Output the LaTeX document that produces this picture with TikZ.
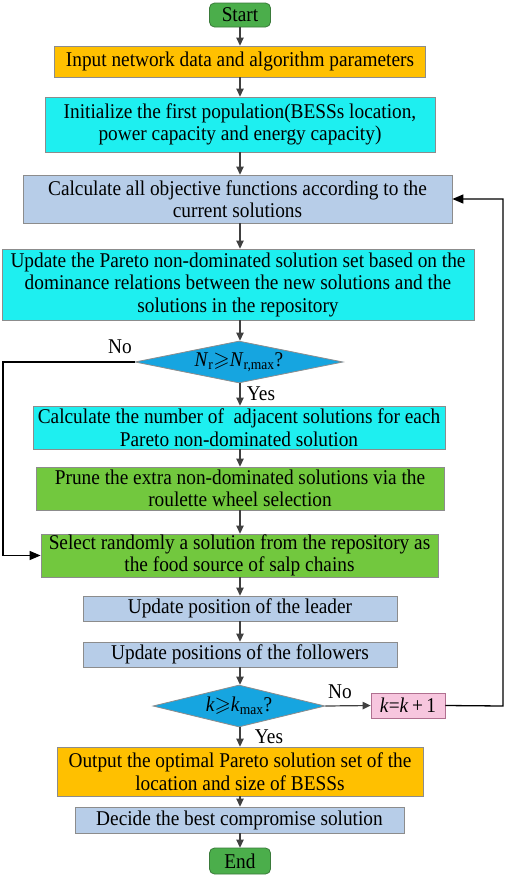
\documentclass[tikz,border=0pt]{standalone}
\usepackage{fontspec}
\setmainfont{Liberation Serif}[FakeStretch=0.92]
\usepackage{amssymb}
\usetikzlibrary{shapes.geometric,arrows.meta}
\definecolor{termgreen}{HTML}{4BAE4B}
\definecolor{termborder}{HTML}{3A7A3A}
\definecolor{orangebox}{HTML}{FFC000}
\definecolor{cyanbox}{HTML}{1EEFF0}
\definecolor{bluebox}{HTML}{B7CDE8}
\definecolor{greenbox}{HTML}{72C83E}
\definecolor{diamondblue}{HTML}{16A5E0}
\definecolor{pinkbox}{HTML}{F7C6DE}
\definecolor{pinkborder}{HTML}{B07090}
\definecolor{bordergray}{HTML}{8C8C8C}
\definecolor{arrowgray}{HTML}{404040}
\begin{document}
\begin{tikzpicture}[x=1pt,y=-1pt,
  txt/.style={font=\fontsize{21}{22.5}\selectfont},
  box/.style={txt,draw=bordergray,line width=0.8pt,inner sep=0pt,align=center},
  term/.style={box,draw=termborder,fill=termgreen,rounded corners=5pt,minimum width=61pt},
  decision/.style={txt,diamond,draw=bordergray,line width=0.8pt,fill=diamondblue,inner sep=0pt,aspect=4.5,minimum height=42pt},
  arr/.style={draw=arrowgray,line width=1.2pt,-{Triangle[length=8pt,width=7.5pt]}},
  loop/.style={draw=black,line width=1.3pt,-{Triangle[length=11pt,width=9pt]}},
  lab/.style={txt,inner sep=0pt}
]
\useasboundingbox (0,0) rectangle (505,876);

\node[term,minimum height=24pt] (start) at (240,15) {Start};
\node[box,fill=orangebox,minimum width=371pt,minimum height=31pt] (b1) at (240,61.5) {Input network data and algorithm parameters};
\node[box,fill=cyanbox,minimum width=390pt,minimum height=55pt] (b2) at (240,124.5) {Initialize the first population(BESSs location,\\power capacity and energy capacity)};
\node[box,fill=bluebox,minimum width=429pt,minimum height=48pt] (b3) at (237.5,199) {Calculate all objective functions according to the\\current solutions};
\node[box,fill=cyanbox,minimum width=472pt,minimum height=71pt] (b4) at (238,284.5) {Update the Pareto non-dominated solution set based on the\\dominance relations between the new solutions and the\\solutions in the repository};
\node[decision,minimum width=208pt] (d1) at (239,362) {\textit{N}\textsubscript{r}$\geqslant$\textit{N}\textsubscript{r,max}?};
\node[box,fill=cyanbox,minimum width=412pt,minimum height=43pt] (b5) at (239,427.5) {Calculate the number of \ adjacent solutions for each\\Pareto non-dominated solution};
\node[box,fill=greenbox,minimum width=408pt,minimum height=43pt] (b6) at (240,488.5) {Prune the extra non-dominated solutions via the\\roulette wheel selection};
\node[box,fill=greenbox,minimum width=397pt,minimum height=43pt] (b7) at (239.5,555.5) {Select randomly a solution from the repository as\\the food source of salp chains};
\node[box,fill=bluebox,minimum width=314pt,minimum height=25pt] (b8) at (240,608.5) {Update position of the leader};
\node[box,fill=bluebox,minimum width=314pt,minimum height=25pt] (b9) at (240,654.5) {Update positions of the followers};
\node[decision,minimum width=172pt,aspect=4] (d2) at (239,706) {\textit{k}$\geqslant$\textit{k}\textsubscript{max}?};
\node[box,draw=pinkborder,fill=pinkbox,minimum width=74pt,minimum height=25pt] (kb) at (408,705.5) {\textit{k}=\textit{k}\,+\,1};
\node[box,fill=orangebox,minimum width=366pt,minimum height=49pt] (b10) at (240,771.5) {Output the optimal Pareto solution set of the\\location and size of BESSs};
\node[box,fill=bluebox,minimum width=329pt,minimum height=26pt] (b11) at (239.5,820) {Decide the best compromise solution};
\node[term,minimum height=26pt] (end) at (240,861) {End};

\draw[arr] (start.south -| 240,0) -- (b1.north -| 240,0);
\draw[arr] (b1.south -| 240,0) -- (b2.north -| 240,0);
\draw[arr] (b2.south -| 240,0) -- (b3.north -| 240,0);
\draw[arr] (b3.south -| 240,0) -- (b4.north -| 240,0);
\draw[arr] (b4.south -| 240,0) -- (d1.north -| 240,0);
\draw[arr] (d1.south -| 240,0) -- (b5.north -| 240,0);
\draw[arr] (b5.south -| 240,0) -- (b6.north -| 240,0);
\draw[arr] (b6.south -| 240,0) -- (b7.north -| 240,0);
\draw[arr] (b7.south -| 240,0) -- (b8.north -| 240,0);
\draw[arr] (b8.south -| 240,0) -- (b9.north -| 240,0);
\draw[arr] (b9.south -| 240,0) -- (d2.north -| 240,0);
\draw[arr] (d2.south -| 240,0) -- (b10.north -| 240,0);
\draw[arr] (b10.south -| 240,0) -- (b11.north -| 240,0);
\draw[arr] (b11.south -| 240,0) -- (end.north -| 240,0);
\draw[arr] (d2.east) -- (kb.west);

\coordinate (lc) at (3,362);
\coordinate (rc) at (503,706);
\draw[loop] (d1.west) -- (lc) |- (b7.west);
\draw[loop] (kb.east) -- (rc) |- (b3.east);

\node[lab] (no1) at (120,347) {No};
\node[lab] (yes1) at (261,394) {Yes};
\node[lab] (no2) at (340,692) {No};
\node[lab] (yes2) at (269,737) {Yes};
\end{tikzpicture}
\end{document}
